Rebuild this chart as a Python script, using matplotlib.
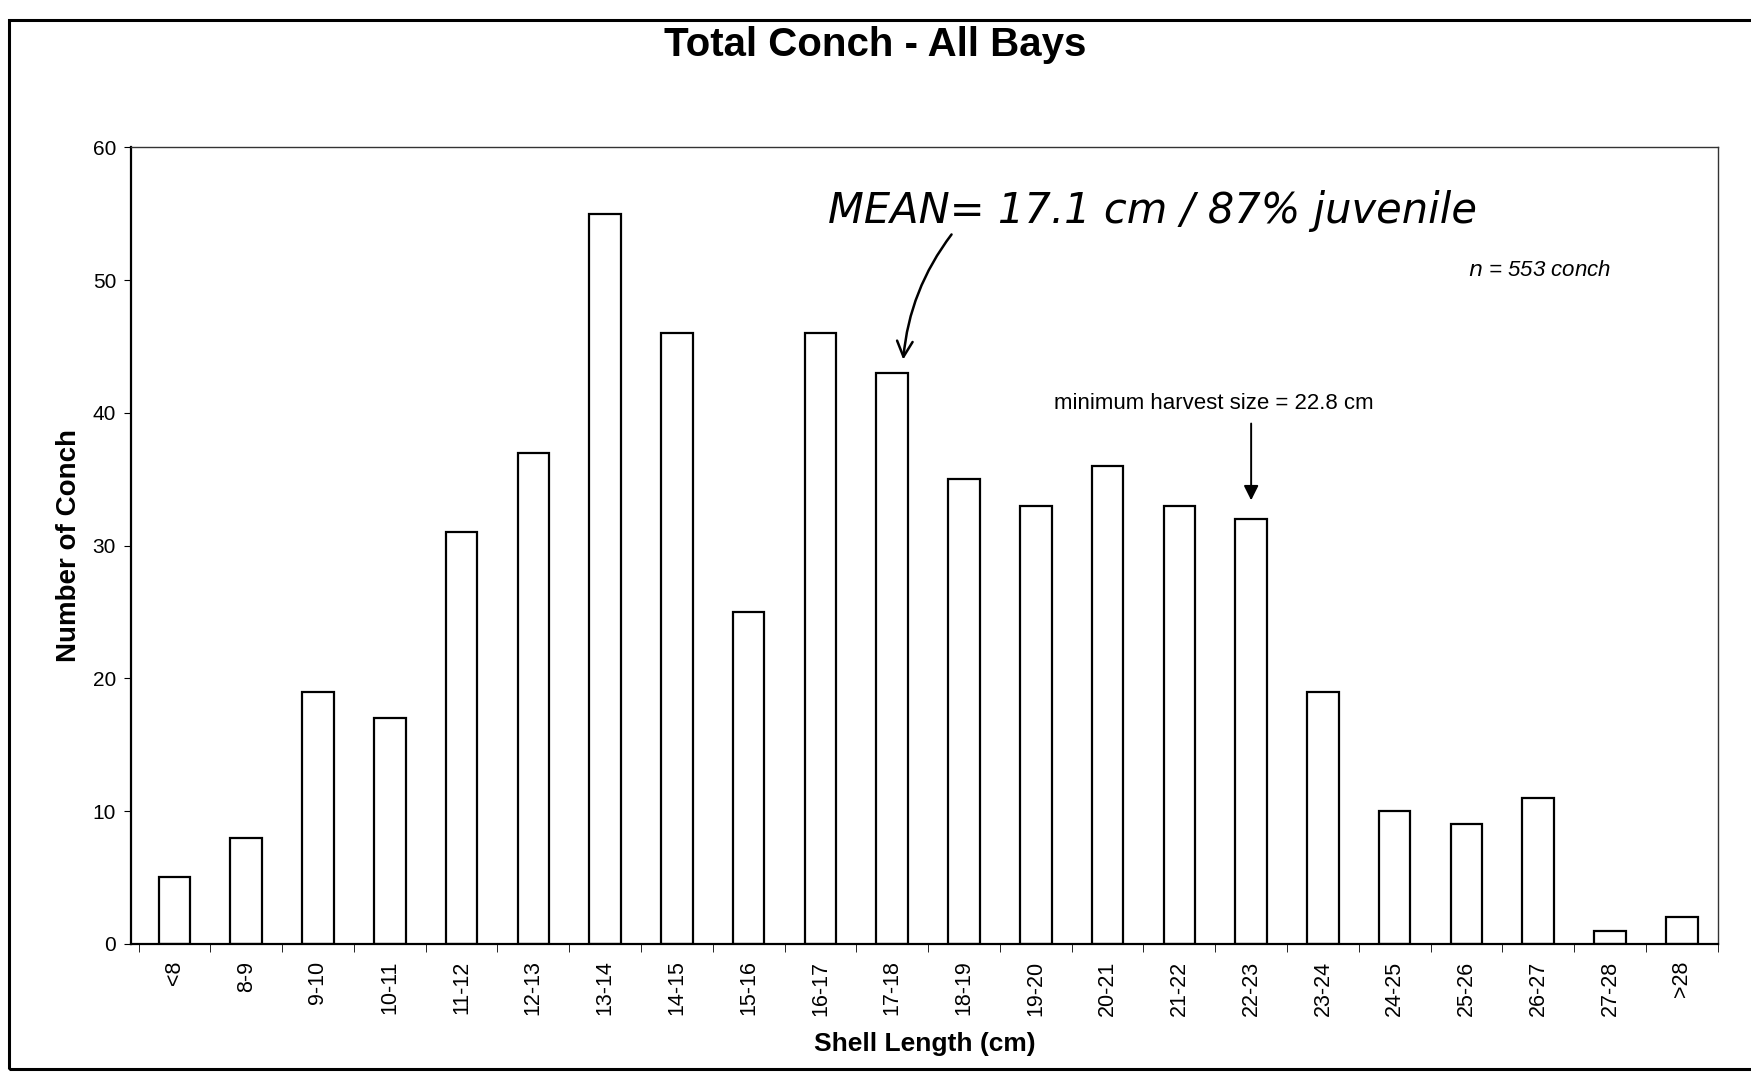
import numpy as np
import matplotlib.pyplot as plt
from matplotlib.patches import Rectangle

# shell length classes and counts
classes = ['<8', '8-9', '9-10', '10-11', '11-12', '12-13', '13-14', '14-15',
           '15-16', '16-17', '17-18', '18-19', '19-20', '20-21', '21-22',
           '22-23', '23-24', '24-25', '25-26', '26-27', '27-28', '>28']
counts = [5, 8, 19, 17, 31, 37, 55, 46, 25, 46, 43, 35, 33, 36, 33, 32,
          19, 10, 9, 11, 1, 2]
yticks = [0, 10, 20, 30, 40, 50, 60]

plt.rcParams['font.family'] = ['Liberation Sans', 'DejaVu Sans']

fig = plt.figure(figsize=(17.51, 10.75), dpi=100)
ax = fig.add_axes([0.075, 0.122, 0.906, 0.741])

x = np.arange(len(classes))
ax.bar(x, counts, width=0.44, color='white', edgecolor='black', linewidth=1.6)

ax.set_xlim(-0.6, len(classes) - 0.5)
ax.set_ylim(0, 60)
ax.set_yticks(yticks)
ax.tick_params(axis='y', direction='out', length=5, labelsize=15, pad=6)

# category labels centred, tick marks between categories
ax.set_xticks(x)
ax.set_xticklabels(classes, rotation=90, fontsize=15.5)
ax.set_xticks(np.arange(len(classes) + 1) - 0.5, minor=True)
ax.tick_params(axis='x', which='major', length=0, pad=12)
ax.tick_params(axis='x', which='minor', direction='out', length=6)

for s in ['left', 'bottom']:
    ax.spines[s].set_linewidth(1.6)
for s in ['top', 'right']:
    ax.spines[s].set_linewidth(1.0)
    ax.spines[s].set_color('#333333')

ax.set_ylabel('Number of Conch', fontsize=20, fontweight='bold', labelpad=8)
ax.set_xlabel('Shell Length (cm)', fontsize=19, fontweight='bold', labelpad=12)
fig.suptitle('Total Conch - All Bays', fontsize=29, fontweight='bold',
             y=0.958, va='center')

ax.text(18.02, 50.7, r'$n$ = 553 conch', fontsize=16, ha='left', va='center',
        style='italic')

# minimum harvest size marker
ax.text(14.48, 40.7, 'minimum harvest size = 22.8 cm', fontsize=16,
        ha='center', va='center')
ax.annotate('', xy=(15, 33.2), xytext=(15, 39.4),
            arrowprops=dict(arrowstyle='-|>', color='black', lw=1.4,
                            mutation_scale=22))

# mean length note
ax.text(9.1, 55.2, 'MEAN= 17.1 cm / 87% juvenile', fontsize=30, ha='left',
        va='center', style='italic', family=['DejaVu Sans'])
ax.annotate('', xy=(10.15, 43.8), xytext=(10.85, 53.6),
            arrowprops=dict(arrowstyle='->', color='black', lw=1.8,
                            mutation_scale=28,
                            connectionstyle='arc3,rad=0.15'))

# outer frame around the whole chart
fig.patches.append(Rectangle((0.005, 0.006), 1.2, 0.975, transform=fig.transFigure,
                             fill=False, edgecolor='black', linewidth=2.2))

fig.savefig('out.png', dpi=100)
